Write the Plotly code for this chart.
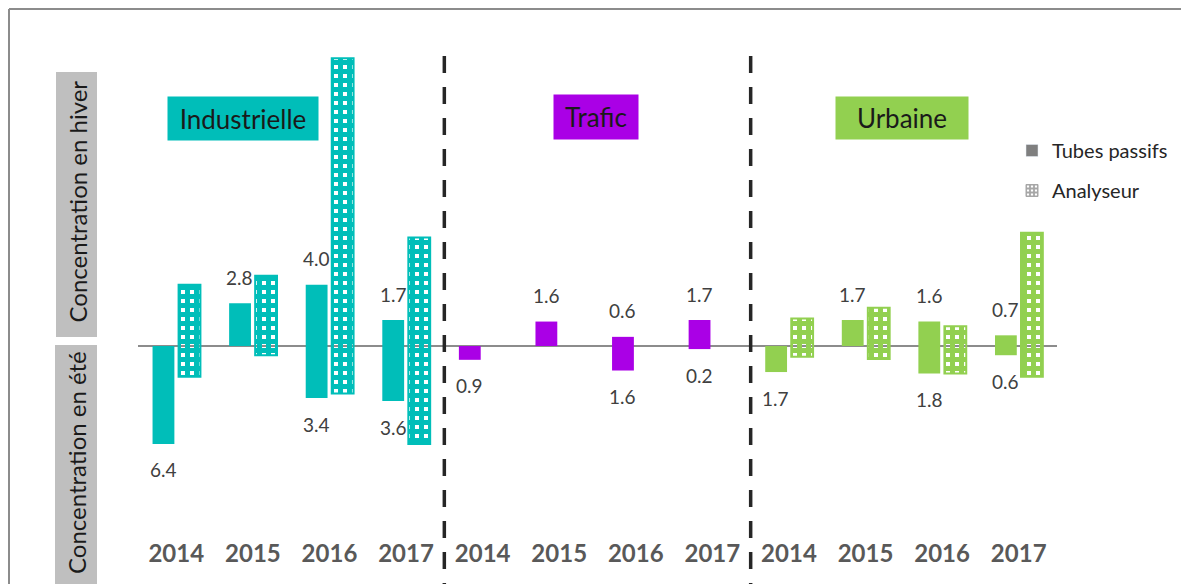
import plotly.graph_objects as go

# ---------------- data ----------------
years = ["2014", "2015", "2016", "2017"]
zones = ["Industrielle", "Trafic", "Urbaine"]
zone_colors = ["#00BEB9", "#AA00E6", "#92D050"]

# Tubes passifs (winter above zero, summer below zero)
tubes_hiver = {
    "Industrielle": [None, 2.8, 4.0, 1.7],
    "Trafic": [None, 1.6, 0.6, 1.7],
    "Urbaine": [None, 1.7, 1.6, 0.7],
}
tubes_ete = {
    "Industrielle": [6.4, None, 3.4, 3.6],
    "Trafic": [0.9, None, 1.6, 0.2],
    "Urbaine": [1.7, None, 1.8, 0.6],
}
# Analyseur
ana_hiver = {
    "Industrielle": [4.0, 4.6, 18.8, 7.1],
    "Trafic": [None, None, None, None],
    "Urbaine": [1.8, 2.5, 1.3, 7.4],
}
ana_ete = {
    "Industrielle": [2.0, 0.6, 3.1, 6.4],
    "Trafic": [None, None, None, None],
    "Urbaine": [0.7, 0.85, 1.8, 2.0],
}

# ---------------- layout geometry (screen pixels, page has 8px body margin) ----------------
O = 8
W, H = 1189 - O, 584 - O
L, R, T, B = 138 - O, W - (1057 - O), 40 - O, H - (537 - O)
PW, PH = W - L - R, H - T - B


def px(xp):
    return (xp - O - L) / PW


def py(yp):
    return (H - B - (yp - O)) / PH


def span(w, s):
    if w is None and s is None:
        return None, None
    w = w or 0
    s = s or 0
    return w + s, -s


xs, tb_y, tb_base, an_y, an_base, colors = [], [], [], [], [], []
i = 0
for z, c in zip(zones, zone_colors):
    for k in range(4):
        xs.append(i)
        y1, b1 = span(tubes_hiver[z][k], tubes_ete[z][k])
        y2, b2 = span(ana_hiver[z][k], ana_ete[z][k])
        tb_y.append(y1); tb_base.append(b1)
        an_y.append(y2); an_base.append(b2)
        colors.append(c)
        i += 1

BW = 0.285
fig = go.Figure()
fig.add_trace(go.Bar(
    x=xs, y=tb_y, base=tb_base, width=BW, offset=-0.31,
    marker=dict(color=colors, line=dict(width=0)),
    showlegend=False, hoverinfo="skip",
))
fig.add_trace(go.Bar(
    x=xs, y=an_y, base=an_base, width=BW, offset=0.03,
    marker=dict(color=colors, line=dict(color=colors, width=2),
                pattern=dict(shape="+", fgcolor=colors, bgcolor="white", fillmode="replace",
                             size=9, solidity=0.8)),
    showlegend=False, hoverinfo="skip",
))
# legend entries
fig.add_trace(go.Bar(x=[None], y=[None], name="Tubes passifs",
                     marker=dict(color="#7F7F7F"), legendgroup="a"))
fig.add_trace(go.Bar(x=[None], y=[None], name="Analyseur",
                     marker=dict(color="#A6A6A6", line=dict(color="#A6A6A6", width=1),
                                 pattern=dict(shape="+", fgcolor="#A6A6A6", bgcolor="white",
                                              fillmode="replace", size=5, solidity=0.7)),
                     legendgroup="b"))

FONT = "Lato"
annotations = []
# data labels for tubes passifs
i = 0
for z in zones:
    for k in range(4):
        w = tubes_hiver[z][k]
        s = tubes_ete[z][k]
        if w is not None:
            annotations.append(dict(x=i - 0.17, y=w, yshift=26, text=f"{w:.1f}", showarrow=False,
                                    font=dict(family=FONT, size=19, color="#404040")))
        if s is not None:
            annotations.append(dict(x=i - 0.17, y=-s, yshift=-26, text=f"{s:.1f}", showarrow=False,
                                    font=dict(family=FONT, size=19, color="#404040")))
        i += 1

# zone boxes
for z, c, cx, cy, bw, bh in [("Industrielle", zone_colors[0], 243, 118.5, 150, 43),
                              ("Trafic", zone_colors[1], 596, 117, 84, 44),
                              ("Urbaine", zone_colors[2], 902, 118, 132, 42)]:
    annotations.append(dict(xref="paper", yref="paper", x=px(cx), y=py(cy), text=z,
                            xanchor="center", yanchor="middle",
                            showarrow=False, bgcolor=c, width=bw, height=bh, borderpad=0,
                            font=dict(family=FONT, size=26, color="#1a1a1a")))

# side labels and frame
shapes = [
    dict(type="rect", xref="paper", yref="paper", x0=px(56), x1=px(97), y0=py(337), y1=py(72),
         fillcolor="#BFBFBF", line=dict(width=0), layer="below"),
    dict(type="rect", xref="paper", yref="paper", x0=px(55), x1=px(97), y0=py(600), y1=py(345),
         fillcolor="#BFBFBF", line=dict(width=0), layer="below"),
    dict(type="line", xref="paper", yref="paper", x0=px(9), x1=px(1300), y0=py(9), y1=py(9),
         line=dict(color="#8C8C8C", width=2)),
    dict(type="line", xref="paper", yref="paper", x0=px(9), x1=px(9), y0=py(9), y1=py(700),
         line=dict(color="#8C8C8C", width=2)),
]
annotations.append(dict(xref="paper", yref="paper", x=px(76.5), y=py(202), text="Concentration en hiver",
                        xanchor="center", yanchor="middle",
                        textangle=-90, showarrow=False, font=dict(family=FONT, size=24, color="#1a1a1a")))
annotations.append(dict(xref="paper", yref="paper", x=px(76), y=py(463), text="Concentration en été",
                        xanchor="center", yanchor="middle",
                        textangle=-90, showarrow=False, font=dict(family=FONT, size=24, color="#1a1a1a")))

for xv in [3.5, 7.5]:
    shapes.append(dict(type="line", xref="x", yref="paper", x0=xv, x1=xv, y0=py(56), y1=py(600),
                       line=dict(color="#262626", width=3.5, dash="17px,14px")))

fig.update_layout(
    width=W, height=H,
    margin=dict(l=L, r=R, t=T, b=B),
    paper_bgcolor="white", plot_bgcolor="white",
    barmode="overlay",
    showlegend=True,
    legend=dict(x=px(1012), y=py(131), xanchor="left", yanchor="top",
                font=dict(family=FONT, size=20, color="#262626"),
                traceorder="grouped", tracegroupgap=11, itemwidth=30, bgcolor="rgba(0,0,0,0)"),
    xaxis=dict(range=[-0.5, 11.5], tickvals=list(range(12)), ticktext=years * 3,
               showgrid=False, zeroline=False, showline=False, ticks="",
               tickfont=dict(family=FONT, size=24, color="#595959", weight="bold"),
               fixedrange=True),
    yaxis=dict(range=[-12.48, 20], showgrid=False, zeroline=True, zerolinecolor="#8C8C8C",
               zerolinewidth=2, showticklabels=False, showline=False, ticks=""),
    annotations=annotations,
    shapes=shapes,
)

fig.write_html("out.html")
